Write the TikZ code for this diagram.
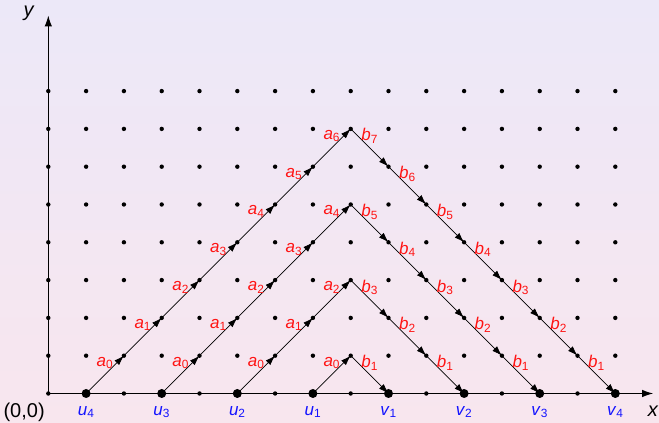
\documentclass[tikz,border=0pt]{standalone}
\usepackage{fontspec}
\setmainfont{Liberation Sans}
\usetikzlibrary{arrows.meta}
\definecolor{bgtop}{RGB}{236,232,248}
\definecolor{bgbot}{RGB}{248,230,238}
\definecolor{labred}{RGB}{255,20,20}
\definecolor{labblue}{RGB}{20,20,255}
\begin{document}
\begin{tikzpicture}[x=37.8pt,y=37.8pt,
  axis/.style={line width=1pt,-{Latex[length=11pt,width=7.5pt]}},
  seg/.style={line width=0.7pt,-{Latex[length=10pt,width=6.5pt]}},
  lab/.style={text=labred,font=\fontsize{17}{20}\selectfont,inner sep=0pt,yshift=11.7pt},
  ulab/.style={text=labblue,font=\fontsize{17}{20}\selectfont,inner sep=0pt,yshift=-18.5pt},
  axlab/.style={font=\fontsize{20}{24}\selectfont,inner sep=0pt}]
\shade[top color=bgtop,bottom color=bgbot] (-1.278,-0.780) rectangle (16.156,10.410);
\useasboundingbox (-1.278,-0.780) rectangle (16.156,10.410);
\foreach \i in {0,...,15}{\foreach \j in {0,...,8}{\coordinate (p\i-\j) at (\i,\j);}}
\coordinate (xend) at (16,0);
\coordinate (yend) at (0,10);
\draw[axis] (p0-0) -- (xend);
\draw[axis] (p0-0) -- (yend);
\foreach \i in {0,...,15}{\foreach \j in {0,...,8}{\fill (p\i-\j) circle (2.2pt);}}
\foreach \n in {1,...,4}{
  \pgfmathtruncatemacro\h{2*\n-1}
  \pgfmathtruncatemacro\hm{\h-1}
  \pgfmathtruncatemacro\s{9-2*\n}
  \foreach \k in {0,...,\hm}{
    \pgfmathtruncatemacro\xa{\s+\k}
    \pgfmathtruncatemacro\xb{\s+\k+1}
    \pgfmathtruncatemacro\kk{\k+1}
    \draw[seg] (p\xa-\k) -- node[lab]{\textit{a}\textsubscript{\k}} (p\xb-\kk);
    \pgfmathtruncatemacro\da{8+\k}
    \pgfmathtruncatemacro\db{9+\k}
    \pgfmathtruncatemacro\ya{\h-\k}
    \pgfmathtruncatemacro\yb{\h-\k-1}
    \draw[seg] (p\da-\ya) -- node[lab]{\textit{b}\textsubscript{\ya}} (p\db-\yb);
  }
}
\foreach \x/\l/\i in {1/u/4,3/u/3,5/u/2,7/u/1,9/v/1,11/v/2,13/v/3,15/v/4}{
  \fill (p\x-0) circle (4.5pt);
  \node[ulab] (l\x) at (p\x-0) {\textit{\l}\textsubscript{\i}};
}
\node[axlab] (orig) at (-0.64,-0.49) {(0,0)};
\node[axlab] (xl) at (16.0,-0.47) {\textit{x}};
\node[axlab] (yl) at (-0.51,10.06) {\textit{y}};
\end{tikzpicture}
\end{document}
